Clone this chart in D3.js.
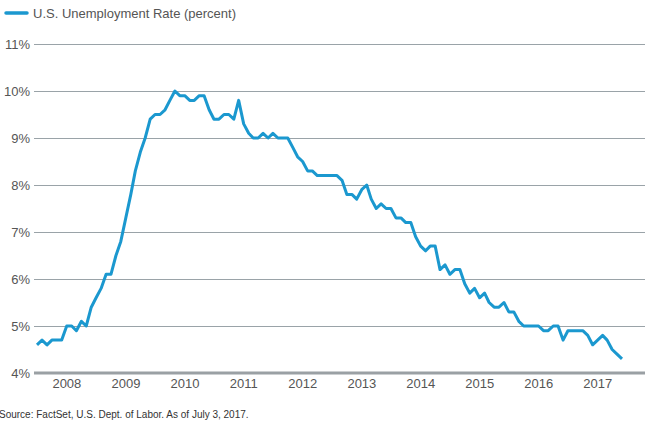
<!DOCTYPE html>
<html><head><meta charset="utf-8">
<script src="https://cdn.jsdelivr.net/npm/d3@7"></script>
<style>body{margin:0;background:#fff;} text{font-family:"Liberation Sans",Arial,sans-serif;}</style>
</head><body>
<svg id="c" width="652" height="426"></svg>
<script>
const seriesName = "U.S. Unemployment Rate (percent)";
const startMonth = "2007-06";
const rates = [
  4.6,4.7,4.6,4.7,4.7,4.7,5.0,
  5.0,4.9,5.1,5.0,5.4,5.6,5.8,6.1,6.1,6.5,6.8,7.3,
  7.8,8.3,8.7,9.0,9.4,9.5,9.5,9.6,9.8,10.0,9.9,9.9,
  9.8,9.8,9.9,9.9,9.6,9.4,9.4,9.5,9.5,9.4,9.8,9.3,
  9.1,9.0,9.0,9.1,9.0,9.1,9.0,9.0,9.0,8.8,8.6,8.5,
  8.3,8.3,8.2,8.2,8.2,8.2,8.2,8.1,7.8,7.8,7.7,7.9,
  8.0,7.7,7.5,7.6,7.5,7.5,7.3,7.3,7.2,7.2,6.9,6.7,
  6.6,6.7,6.7,6.2,6.3,6.1,6.2,6.2,5.9,5.7,5.8,5.6,
  5.7,5.5,5.4,5.4,5.5,5.3,5.3,5.1,5.0,5.0,5.0,5.0,
  4.9,4.9,5.0,5.0,4.7,4.9,4.9,4.9,4.9,4.8,4.6,4.7,
  4.8,4.7,4.5,4.4,4.3
];
const yTicks = [4,5,6,7,8,9,10,11];
const xTickYears = [2008,2009,2010,2011,2012,2013,2014,2015,2016,2017];
const sourceText = "Source: FactSet, U.S. Dept. of Labor. As of July 3, 2017.";

const parse = d3.timeParse("%Y-%m");
const start = parse(startMonth);
// points dated at month end
const data = rates.map((v,i)=>({date: d3.timeDay.offset(d3.timeMonth.offset(start, i+1), -1), v}));

const svg = d3.select("#c");
const x = d3.scaleTime().domain([data[0].date, data[data.length-1].date]).range([37, 622]);
const y = d3.scaleLinear().domain([4,11]).range([373, 44]);

// gridlines
svg.append("g").selectAll("line").data(yTicks.filter(t=>t>4)).join("line")
  .attr("x1",34).attr("x2",645).attr("y1",d=>y(d)).attr("y2",d=>y(d))
  .attr("stroke","#9aa3a8").attr("stroke-width",1).attr("shape-rendering","crispEdges");
// baseline
svg.append("line").attr("x1",34).attr("x2",645).attr("y1",y(4)).attr("y2",y(4))
  .attr("stroke","#9aa0a4").attr("stroke-width",3);

// y labels
svg.append("g").selectAll("text").data(yTicks).join("text")
  .attr("x",30).attr("y",d=>y(d)+4.5).attr("text-anchor","end")
  .attr("font-size",13).attr("fill","#555").text(d=>d+"%");

// x labels
svg.append("g").selectAll("text").data(xTickYears).join("text")
  .attr("x",d=>x(new Date(d,0,1))).attr("y",388).attr("text-anchor","middle")
  .attr("font-size",13).attr("fill","#555").text(d=>d);

// line
svg.append("path").datum(data)
  .attr("d", d3.line().x(d=>x(d.date)).y(d=>y(d.v)))
  .attr("fill","none").attr("stroke","#1b98cf").attr("stroke-width",3).attr("stroke-linejoin","round");

// legend
svg.append("line").attr("x1",6).attr("x2",27).attr("y1",13).attr("y2",13)
  .attr("stroke","#1b98cf").attr("stroke-width",3.5).attr("stroke-linecap","round");
svg.append("text").attr("x",33).attr("y",17.5).attr("font-size",13).attr("fill","#555").text(seriesName);

// source
svg.append("text").attr("x",-1).attr("y",418).attr("font-size",10).attr("fill","#333").text(sourceText);
</script>
</body></html>
